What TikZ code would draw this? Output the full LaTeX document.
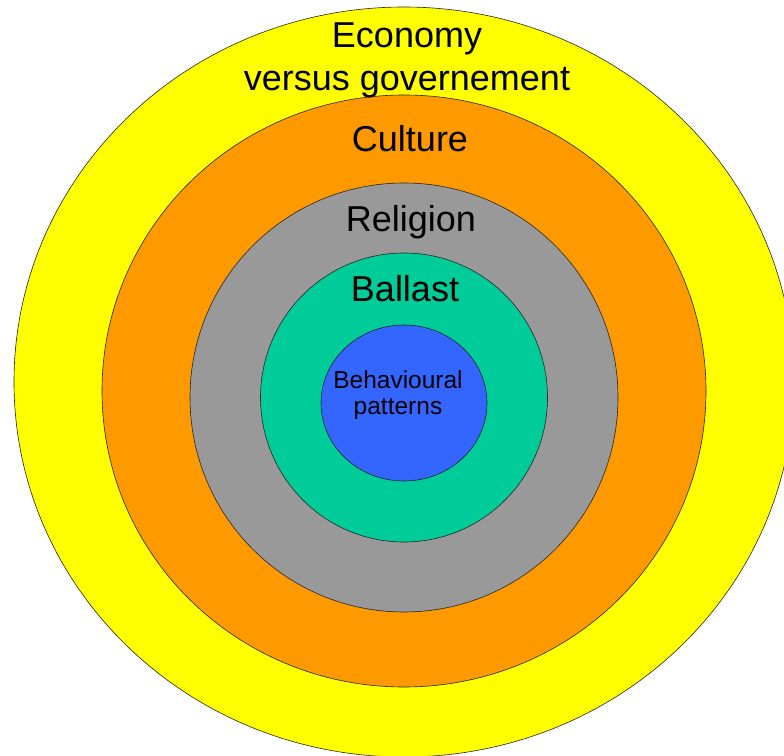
\documentclass[tikz,border=0pt]{standalone}
\usepackage{fontspec}
\setmainfont{Liberation Sans}

\definecolor{ringyellow}{HTML}{FFFF00}
\definecolor{ringorange}{HTML}{FF9900}
\definecolor{ringgray}{HTML}{999999}
\definecolor{ringgreen}{HTML}{00CC99}
\definecolor{ringblue}{HTML}{3366FF}

\tikzset{
  ring/.style={draw=black!85, line width=0.6pt},
  biglabel/.style={font=\fontsize{36}{40}\selectfont, inner sep=0pt, anchor=base},
  smalllabel/.style={font=\fontsize{24.5}{26}\selectfont, inner sep=0pt, anchor=base}
}

\begin{document}
\begin{tikzpicture}[x=1pt,y=1pt]

    \useasboundingbox (0,0) rectangle (784,755);
    \clip (0,0) rectangle (784,755);

    % --------------------------------------------------------- %
    % ------------- rings (outer to inner)
    % --------------------------------------------------------- %
    \fill[ring, fill=ringyellow] (404,373) ellipse [x radius=390, y radius=375];
    \fill[ring, fill=ringorange] (404,364) ellipse [x radius=302, y radius=296];
    \fill[ring, fill=ringgray] (404,357.5) ellipse [x radius=214, y radius=214.5];
    \fill[ring, fill=ringgreen] (404,357.5) ellipse [x radius=143.5, y radius=144.5];
    \fill[ring, fill=ringblue] (404,352) ellipse [x radius=83, y radius=78];

    % --------------------------------------------------------- %
    % ------------ labels
    % --------------------------------------------------------- %
    % --- economy
    \node[biglabel] (economy) at (407,707) {Economy};
    \node[biglabel] (versus) at (407,664) {versus governement};
    % --- culture
    \node[biglabel] (culture) at (410,603) {Culture};
    % --- religion
    \node[biglabel] (religion) at (411,523) {Religion};
    % --- ballast
    \node[biglabel] (ballast) at (405,453) {Ballast};
    % --- behaviour
    \node[smalllabel] (behaviour) at (398,366) {Behavioural};
    \node[smalllabel] (patterns) at (398,340) {patterns};

  \end{tikzpicture}
\end{document}
